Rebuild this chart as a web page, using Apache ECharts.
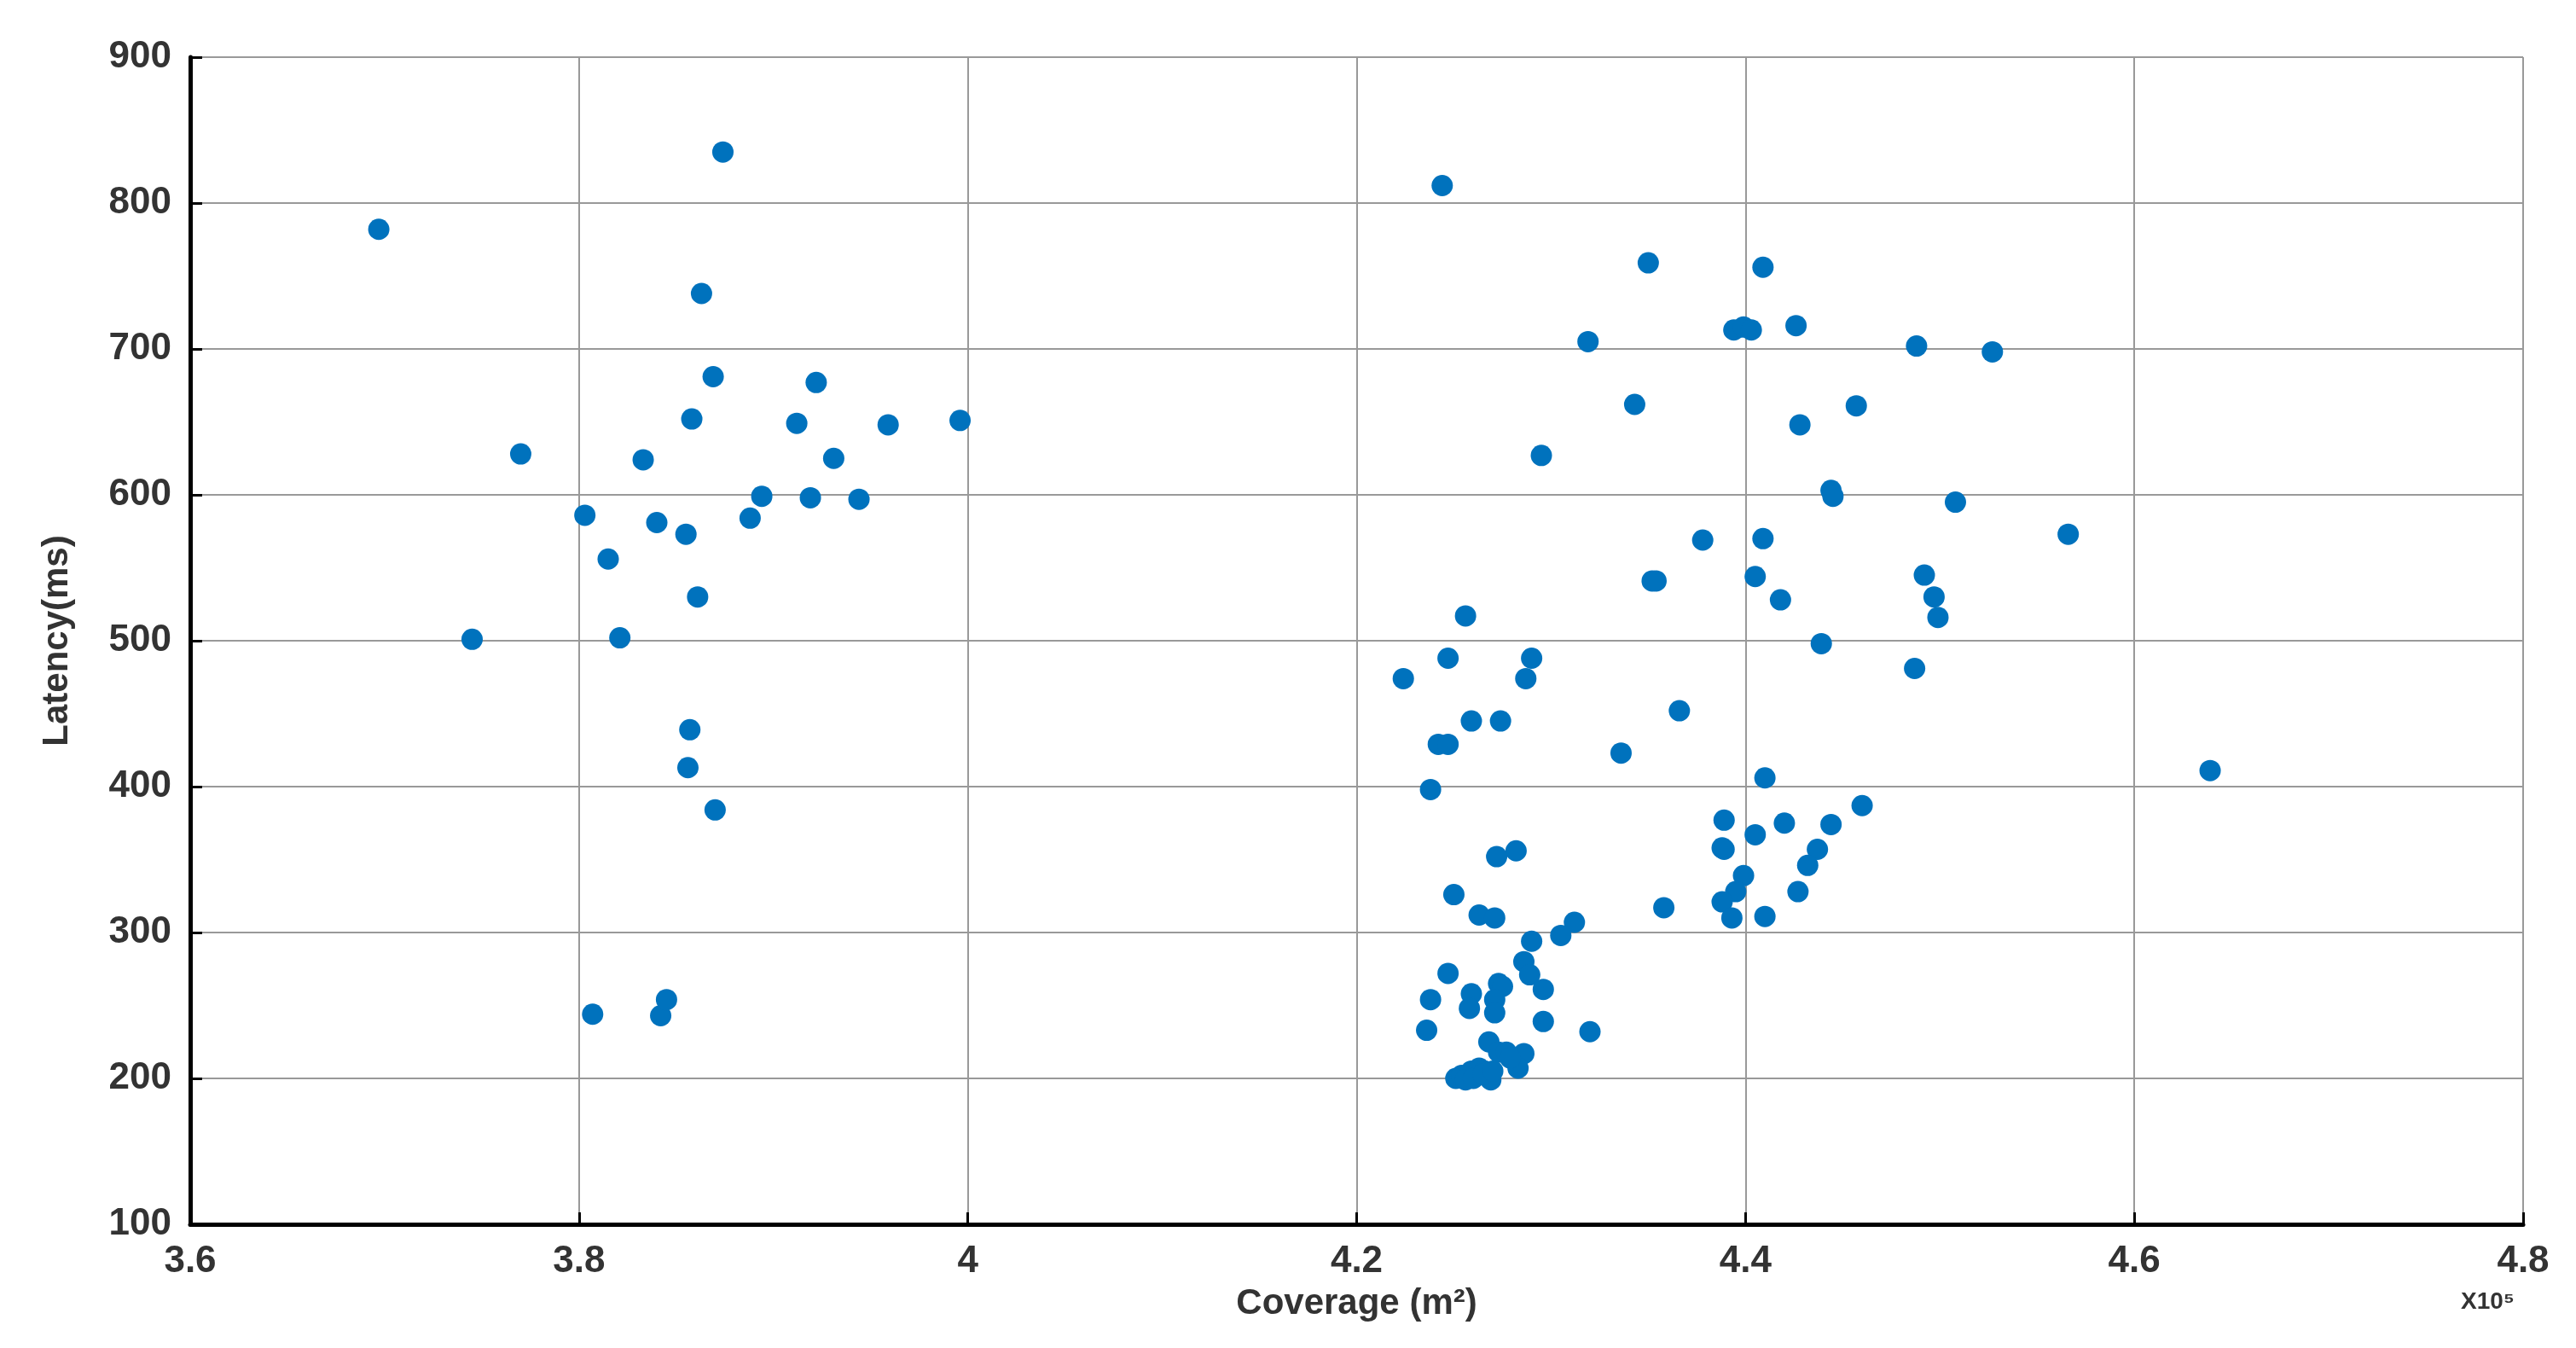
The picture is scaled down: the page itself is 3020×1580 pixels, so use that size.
<!DOCTYPE html>
<html><head><meta charset="utf-8">
<script src="https://cdn.jsdelivr.net/npm/echarts@6/dist/echarts.min.js"></script>
<style>html,body{margin:0;background:#fff}#c{width:3020px;height:1580px}</style>
</head><body><div id="c"></div>
<script>
const coverage = [3.697,3.874,3.770,3.745,3.803,3.815,3.821,3.833,3.840,3.855,3.858,3.863,3.869,3.861,3.857,3.856,3.870,3.807,3.842,3.845,3.888,3.894,3.912,3.922,3.919,3.931,3.944,3.959,3.996,
4.244,4.350,4.409,4.319,4.394,4.399,4.403,4.426,4.488,4.527,4.343,4.457,4.428,4.295,4.444,4.445,4.508,4.566,4.378,4.409,4.352,4.354,4.405,4.418,4.492,4.497,4.499,4.439,4.487,
4.256,4.247,4.290,4.224,4.287,4.259,4.274,4.242,4.247,4.238,4.366,4.336,4.639,4.410,4.460,4.389,4.420,4.444,4.388,4.389,4.405,4.437,4.432,4.399,4.395,4.427,4.388,4.393,4.410,4.358,
4.272,4.282,4.250,4.312,4.305,4.263,4.271,4.290,4.286,4.289,4.247,4.273,4.275,4.296,4.259,4.238,4.271,4.258,4.271,4.296,4.320,4.236,4.268,4.273,4.277,4.286,4.283,4.279,
4.251,4.254,4.259,4.263,4.266,4.256,4.260,4.269,4.265,4.270];
const latency = [782,835,628,501,586,556,502,624,581,573,652,738,681,530,439,413,384,244,243,254,584,599,649,677,598,625,597,648,651,
812,759,756,705,713,715,713,716,702,698,662,661,648,627,603,599,595,573,569,570,541,541,544,528,545,530,516,498,481,
517,488,488,474,474,445,445,429,429,398,452,423,411,406,387,377,375,374,358,357,367,357,346,339,328,328,321,310,311,317,
352,356,326,307,298,312,310,294,280,271,272,265,263,261,258,254,254,248,245,239,232,233,225,218,218,217,207,214,
200,202,205,207,205,199,200,199,203,205];
const xTicks = [3.6,3.8,4,4.2,4.4,4.6,4.8];
const yTicks = [100,200,300,400,500,600,700,800,900];
const pts = coverage.map((x,i)=>[x,latency[i]]);
const font = '"Liberation Sans Narrow","Liberation Sans",Arial,sans-serif';
const chart = echarts.init(document.getElementById('c'));
chart.setOption({
  animation:false,
  grid:{left:223,right:62,top:67,bottom:145},
  xAxis:{type:'value',min:3.6,max:4.8,interval:0.2,
    name:'Coverage (m²)',nameLocation:'middle',nameGap:72,
    nameTextStyle:{fontFamily:font,fontWeight:'bold',fontSize:42,color:'#333'},
    axisLine:{onZero:false,lineStyle:{color:'#000',width:5}},
    axisTick:{inside:true,length:14,lineStyle:{color:'#000',width:3}},
    axisLabel:{margin:22,fontFamily:font,fontWeight:'bold',fontSize:44,color:'#333',
      formatter:v=>{const t=xTicks.find(a=>Math.abs(a-v)<1e-6);return t===undefined?'':String(t);}},
    splitLine:{show:true,lineStyle:{color:'#999',width:2}}},
  yAxis:{type:'value',min:100,max:900,interval:100,
    name:'Latency(ms)',nameLocation:'middle',nameGap:135,
    nameTextStyle:{fontFamily:font,fontWeight:'bold',fontSize:42,color:'#333'},
    axisLine:{onZero:false,lineStyle:{color:'#000',width:5}},
    axisTick:{inside:true,length:14,lineStyle:{color:'#000',width:3}},
    axisLabel:{margin:22,fontFamily:font,fontWeight:'bold',fontSize:44,color:'#333'},
    splitLine:{show:true,lineStyle:{color:'#999',width:2}}},
  graphic:[{type:'text',left:2885,top:1512,style:{text:'X10⁵',font:'bold 28px '+font,fill:'#333'}}],
  series:[{type:'scatter',data:pts,symbolSize:25,itemStyle:{color:'#0072BD',opacity:1}}]
});
</script></body></html>
